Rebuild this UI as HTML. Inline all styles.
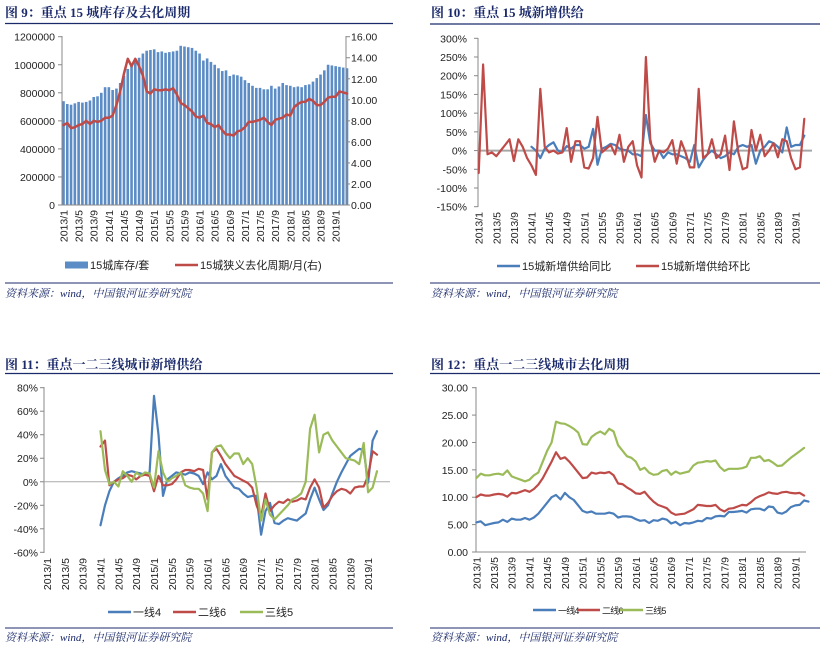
<!DOCTYPE html>
<html><head><meta charset="utf-8"><style>
body{margin:0;background:#fff;}
svg{display:block;font-family:"Liberation Sans","Noto Sans CJK SC",sans-serif;}
.t{font-family:"Liberation Serif","Noto Serif CJK SC",serif;font-weight:bold;fill:#1b2a6b;font-size:13px;}
.s{font-family:"Liberation Serif","Noto Serif CJK SC",serif;font-style:italic;fill:#1b2a6b;font-size:11px;}
.tk{font-size:10.5px;fill:#222;}
.lg{font-size:11px;fill:#222;}
.lgs{font-size:9px;fill:#222;letter-spacing:-0.8px;}
</style></head><body>
<svg id="c" width="823" height="651" viewBox="0 0 823 651">
<g><text class="t" x="5" y="17">图 9：重点 15 城库存及去化周期</text><line x1="5" y1="23.5" x2="393" y2="23.5" stroke="#1b2a6b" stroke-width="1.2"/></g>
<g><text class="t" x="431" y="17">图 10：重点 15 城新增供给</text><line x1="430" y1="24" x2="820" y2="24" stroke="#1b2a6b" stroke-width="1.2"/></g>
<g><text class="t" x="5" y="369">图 11：重点一二三线城市新增供给</text><line x1="5" y1="373.5" x2="393" y2="373.5" stroke="#1b2a6b" stroke-width="1.2"/></g>
<g><text class="t" x="431" y="369">图 12：重点一二三线城市去化周期</text><line x1="430" y1="373.5" x2="820" y2="373.5" stroke="#1b2a6b" stroke-width="1.2"/></g>
<g><line x1="5" y1="283" x2="393" y2="283" stroke="#1b2a6b"/><text class="s" x="5" y="297">资料来源：wind，中国银河证券研究院</text></g>
<g><line x1="430" y1="283" x2="820" y2="283" stroke="#1b2a6b"/><text class="s" x="431" y="297">资料来源：wind，中国银河证券研究院</text></g>
<g><line x1="5" y1="628" x2="393" y2="628" stroke="#1b2a6b"/><text class="s" x="5" y="641">资料来源：wind，中国银河证券研究院</text></g>
<g><line x1="430" y1="628" x2="820" y2="628" stroke="#1b2a6b"/><text class="s" x="431" y="641">资料来源：wind，中国银河证券研究院</text></g>
</svg>
<script>
// ---- data ----
const months = [];
for (let y = 2013; y <= 2019; y++) for (let m = 1; m <= 12; m++) if (months.length < 76) months.push(y + '/' + m);
const xTickLabels = ['2013/1','2013/5','2013/9','2014/1','2014/5','2014/9','2015/1','2015/5','2015/9','2016/1','2016/5','2016/9','2017/1','2017/5','2017/9','2018/1','2018/5','2018/9','2019/1'];

const inventory15 = [740,720,715,725,735,730,735,745,770,775,800,840,
 840,820,830,870,920,970,1000,1030,1050,1080,1100,1105,
 1110,1090,1095,1085,1090,1095,1100,1135,1130,1125,1120,1100,
 1080,1030,1045,1020,1000,975,955,960,920,930,925,915,
 890,870,850,835,835,825,825,850,830,845,870,855,
 850,840,845,840,855,860,880,905,930,960,1000,995,
 990,985,980,975].map(v=>v*1000);
const cycle15 = [7.6,7.8,7.3,7.4,7.6,7.7,8.0,7.7,8.0,7.9,8.0,8.3,
 8.3,8.5,9.5,10.8,12.5,13.9,13.2,13.9,13.2,12.3,10.8,10.6,
 11.0,10.9,10.9,11.0,10.9,11.1,10.5,9.7,9.5,9.2,8.9,8.4,
 8.3,8.5,7.8,7.7,7.4,7.6,7.1,6.7,6.7,6.6,7.0,7.1,
 7.4,7.9,7.9,8.0,8.1,8.3,7.9,7.6,8.1,8.2,8.3,8.6,
 8.5,9.3,9.6,9.8,9.8,10.1,9.9,9.5,9.5,9.8,10.2,10.3,
 10.3,10.8,10.7,10.6];
const supplyMoM = [-60,230,-10,-5,-15,0,15,30,-28,30,10,-20,
 -40,-65,165,10,-5,0,-8,-5,60,-30,25,25,
 -45,-48,-20,90,-5,5,15,-10,42,-30,10,25,
 -40,-72,250,30,-30,0,-5,5,28,-35,25,-5,
 -45,-45,165,-20,-10,30,-20,-10,40,-52,78,-5,
 -50,-45,55,0,42,-15,0,20,-18,30,25,-20,
 -50,-45,85];
const supplyYoY = [null,null,null,null,null,null,null,null,null,null,null,null,
 10,0,-20,5,15,22,0,-5,12,5,15,15,
 5,10,58,-38,5,10,18,15,5,2,0,-10,
 -10,-15,95,20,0,0,-20,-5,-10,-10,-15,-20,
 -30,15,-45,-25,-10,0,-10,-20,-15,-5,-10,10,
 15,10,15,-35,0,10,25,20,10,-5,62,10,
 15,15,40];
const tier1Supply = [null,null,null,null,null,null,null,null,null,null,null,null,
 -37,-20,-8,0,3,5,8,9,8,7,6,8,
 73,40,-12,2,5,8,7,6,8,7,5,-2,
 8,2,5,15,5,0,-5,-6,-10,-13,-12,-12,
 -45,-25,-18,-35,-36,-33,-31,-32,-33,-30,-27,-15,
 -5,-15,-24,-20,-10,0,8,15,22,25,28,27,
 -1,35,43];
const tier2Supply = [null,null,null,null,null,null,null,null,null,null,null,null,
 30,35,-3,0,2,3,6,5,2,5,6,5,
 -8,5,-3,-3,-2,2,8,10,10,9,11,10,
 -15,25,28,22,15,10,5,3,1,-1,-5,-20,
 -30,-10,-25,-20,-17,-18,-15,-17,-16,-14,-15,-5,
 2,-5,-22,-18,-12,-8,-6,-7,-10,-5,-4,-4,
 5,26,23];
const tier3Supply = [null,null,null,null,null,null,null,null,null,null,null,null,
 43,10,-2,0,-4,9,5,0,8,5,8,7,
 -5,26,8,0,3,5,8,-3,-5,-6,-6,-10,
 -25,25,30,31,25,20,24,24,15,20,15,-5,
 -33,-15,-28,-32,-28,-24,-20,-15,-13,-10,0,45,
 57,25,40,42,35,30,25,20,19,18,15,33,
 -9,-5,9];
const tier1Cycle = [5.4,5.6,4.9,5.1,5.3,5.4,5.9,5.5,6.1,5.9,5.9,6.2,
 5.9,6.3,7,8,9,10,10.4,9.6,10.8,10,9.5,8.5,
 7.5,7.2,7.4,7,7,7,7.2,7,6.3,6.5,6.5,6.4,
 6,5.7,5.8,5.3,5.8,5.7,6.1,5.9,5.2,5.5,4.9,5.3,
 5.2,5.4,5.7,5.6,6.2,6.1,6.5,6.6,6.5,7.3,7.3,7.4,
 7.5,7.2,7.8,7.9,7.9,7.6,8.3,8.2,7.2,7,7.4,8.2,
 8.5,8.6,9.4,9.2];
const tier2Cycle = [10,10.5,10.3,10.3,10.5,10.6,10.5,10.1,10.8,10.7,11,11.3,
 11,11.5,12.3,13.5,15,16.5,18.2,17,17.3,16.5,15.5,14.5,
 13.5,13.6,14.5,14.3,14.5,14.4,14.6,14,12.5,12.4,11.8,11.3,
 10.7,10.6,11,10,9.2,8.6,8.3,8,7.2,6.8,6.9,7.0,
 7.4,7.8,8.6,8.5,8.4,8.4,8.6,7.8,7.4,7.9,8,8.3,
 8.6,8.5,9.1,9.8,10.2,10.5,10.9,10.7,10.6,10.9,11,10.8,
 10.7,10.8,10.3];
const tier3Cycle = [13.5,14.3,14,14,14.2,14.3,14.1,14.9,13.8,13.5,13.2,12.9,
 13.2,14,14.5,16.5,18.5,20,23.8,23.5,23.4,23,22.5,21.8,
 19.7,19.6,21,21.6,22,21.5,22.5,22,19.5,18.5,17.5,17.2,
 16.5,15,15.4,14.5,14.1,14.2,14.8,15,14.1,14.7,14.3,14.5,
 14.7,15.8,16.3,16.4,16.6,16.5,16.7,15.5,14.8,15.2,15.2,15.2,
 15.3,15.6,17.2,17.2,17.5,16.6,16.8,16.3,15.7,15.8,16.5,17.2,
 17.8,18.4,19.0];
const ticks9L = ['0','200000','400000','600000','800000','1000000','1200000'];
const ticks9R = ['0.00','2.00','4.00','6.00','8.00','10.00','12.00','14.00','16.00'];
const ticks10 = ['-150%','-100%','-50%','0%','50%','100%','150%','200%','250%','300%'];
const ticks11 = ['-60%','-40%','-20%','0%','20%','40%','60%','80%'];
const ticks12 = ['0.00','5.00','10.00','15.00','20.00','25.00','30.00'];

// ---- helpers ----
const svg = document.getElementById('c');
const NS = 'http://www.w3.org/2000/svg';
function mk(tag, attrs, parent){ const e=document.createElementNS(NS,tag); for(const k in attrs) e.setAttribute(k,attrs[k]); (parent||svg).appendChild(e); return e; }
function linScale(d0,d1,r0,r1){ return v => r0 + (v-d0)/(d1-d0)*(r1-r0); }
function catScale(x0,step){ return i => x0 + i*step; }
function drawXLabels(g, x, yTop){
  xTickLabels.forEach(l=>{
    const i = months.indexOf(l);
    const xx = x(i);
    const t = mk('text',{x:0,y:0,'text-anchor':'end',class:'tk',transform:`translate(${xx+4},${yTop}) rotate(-90)`},g);
    t.textContent = l;
    
    
  });
}
function drawYTicks(g, ticks, vals, y, xPos, anchor, axisX, tickDir){
  ticks.forEach((l,k)=>{
    const yy = y(vals[k]);
    const t = mk('text',{x:xPos,y:yy+4,'text-anchor':anchor,class:'tk'},g);
    t.textContent = l;
    
    
    mk('line',{x1:axisX,x2:axisX+tickDir,y1:yy,y2:yy,stroke:'#888'},g);
  });
}
function drawLine(g, arr, x, y, color, w, name){
  let d='', pen=false;
  arr.forEach((v,i)=>{ if(v===null||v===undefined){pen=false;return;} d += (pen?'L':'M') + x(i).toFixed(1)+','+y(v).toFixed(1); pen=true; });
  const p = mk('path',{d:d,fill:'none',stroke:color,'stroke-width':w,'stroke-linejoin':'round','stroke-linecap':'round'},g);
  
  
}
function legendItem(g, x, y, color, label, kind, name, cls){
  const lg = mk('g',{},g);
  
  
  if(kind==='bar') mk('rect',{x:x,y:y-3.5,width:23,height:7,fill:'#5b8cc6'},lg);
  else mk('line',{x1:x,x2:x+23,y1:y,y2:y,stroke:color,'stroke-width':2.5},lg);
  const t = mk('text',{x:x+25,y:y+4,class:cls||'lg'},lg); t.textContent = label;
}
const BLUE='#4a7ebb', RED='#be4b48', GREEN='#9bbb59';

// ---- Chart 9 ----
(function(){
  const g = mk('g',{});  
  const x = catScale(63.5, 3.78);
  const yL = linScale(0,1200000,205,36.7);
  const yR = linScale(0,16,205,36.7);
  inventory15.forEach((v,i)=>{
    const r = mk('rect',{x:x(i)-1.3,y:yL(v),width:2.6,height:205-yL(v),fill:'#5b8cc6'},g);
    
    
  });
  mk('line',{x1:62,x2:62,y1:36,y2:205,stroke:'#888'},g);
  mk('line',{x1:346,x2:346,y1:36,y2:205,stroke:'#888'},g);
  mk('line',{x1:62,x2:346,y1:205,y2:205,stroke:'#888'},g);
  drawYTicks(g, ticks9L, [0,200000,400000,600000,800000,1000000,1200000], yL, 55, 'end', 62, -4);
  drawYTicks(g, ticks9R, [0,2,4,6,8,10,12,14,16], yR, 351, 'start', 346, 4);
  drawLine(g, cycle15, x, yR, RED, 2.5, 'line-cycle15');
  drawXLabels(g, x, 210);
  legendItem(g, 65, 265, '', '15城库存/套', 'bar', 'legend-inventory');
  legendItem(g, 175, 265, RED, '15城狭义去化周期/月(右)', 'line', 'legend-cycle');
})();

// ---- Chart 10 ----
(function(){
  const g = mk('g',{});  
  const x = catScale(478.7, 4.40);
  const y = linScale(-150,300,206.7,38.3);
  mk('line',{x1:478,x2:478,y1:38,y2:207,stroke:'#888'},g);
  mk('line',{x1:478,x2:812,y1:y(0),y2:y(0),stroke:'#a6a6a6','stroke-width':2},g);
  drawYTicks(g, ticks10, [-150,-100,-50,0,50,100,150,200,250,300], y, 467, 'end', 478, -4);
  drawLine(g, supplyYoY, x, y, BLUE, 2.2, 'line-supply-yoy');
  drawLine(g, supplyMoM, x, y, RED, 2.2, 'line-supply-mom');
  drawXLabels(g, x, 212);
  legendItem(g, 497, 266, BLUE, '15城新增供给同比', 'line', 'legend-yoy');
  legendItem(g, 636, 266, RED, '15城新增供给环比', 'line', 'legend-mom');
})();

// ---- Chart 11 ----
(function(){
  const g = mk('g',{});  
  const x = catScale(47, 4.46);
  const y = linScale(-60,80,552.3,387.7);
  mk('line',{x1:44,x2:44,y1:387,y2:553,stroke:'#888'},g);
  mk('line',{x1:44,x2:390,y1:y(0),y2:y(0),stroke:'#aaa','stroke-width':1},g);
  drawYTicks(g, ticks11, [-60,-40,-20,0,20,40,60,80], y, 38, 'end', 44, -4);
  drawLine(g, tier1Supply, x, y, BLUE, 2.2, 'line-tier1-supply');
  drawLine(g, tier2Supply, x, y, RED, 2.2, 'line-tier2-supply');
  drawLine(g, tier3Supply, x, y, GREEN, 2.2, 'line-tier3-supply');
  drawXLabels(g, x, 558);
  legendItem(g, 108, 612, BLUE, '一线4', 'line', 'legend-tier1');
  legendItem(g, 173, 612, RED, '二线6', 'line', 'legend-tier2');
  legendItem(g, 240, 612, GREEN, '三线5', 'line', 'legend-tier3');
})();

// ---- Chart 12 ----
(function(){
  const g = mk('g',{});  
  const x = catScale(476.3, 4.43);
  const y = linScale(0,30,552,387.7);
  mk('line',{x1:476,x2:476,y1:387,y2:552,stroke:'#888'},g);
  mk('line',{x1:476,x2:806,y1:552,y2:552,stroke:'#888'},g);
  drawYTicks(g, ticks12, [0,5,10,15,20,25,30], y, 468, 'end', 476, -4);
  drawLine(g, tier1Cycle, x, y, BLUE, 2.2, 'line-tier1-cycle');
  drawLine(g, tier2Cycle, x, y, RED, 2.2, 'line-tier2-cycle');
  drawLine(g, tier3Cycle, x, y, GREEN, 2.2, 'line-tier3-cycle');
  drawXLabels(g, x, 557);
  legendItem(g, 533, 610, BLUE, '一线4', 'line', 'legend-tier1-cycle', 'lgs');
  legendItem(g, 577, 610, RED, '二线6', 'line', 'legend-tier2-cycle', 'lgs');
  legendItem(g, 620, 610, GREEN, '三线5', 'line', 'legend-tier3-cycle', 'lgs');
})();
</script>
</body></html>
